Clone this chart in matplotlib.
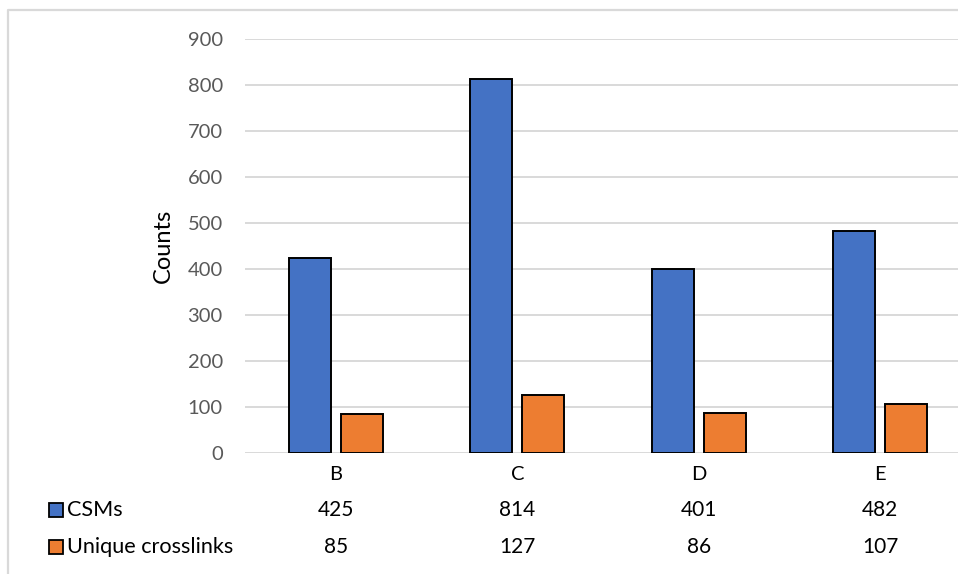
import matplotlib
matplotlib.use("Agg")
import matplotlib.pyplot as plt
from matplotlib.lines import Line2D
from matplotlib.transforms import blended_transform_factory
import numpy as np

categories = ["B", "C", "D", "E"]
series_names = ["CSMs", "Unique crosslinks"]
csms = [425, 814, 401, 482]
unique_crosslinks = [85, 127, 86, 107]
yticks = [0, 100, 200, 300, 400, 500, 600, 700, 800, 900]

blue = "#4472C4"
orange = "#ED7D31"
grid_col = "#D9D9D9"
tick_col = "#595959"

plt.rcParams["font.family"] = ["Lato", "DejaVu Sans"]

W, H = 958, 574
ax_l, ax_r, ax_b, ax_t = 245, 971, 453, 39
fig = plt.figure(figsize=(W / 100, H / 100), dpi=100)
ax = fig.add_axes([ax_l / W, 1 - ax_b / H, (ax_r - ax_l) / W, (ax_b - ax_t) / H])

x = np.arange(len(categories))
bw = 0.231
off = 0.143
ax.bar(x - off, csms, bw, color=blue, edgecolor="black", linewidth=1.4, zorder=3)
ax.bar(x + off, unique_crosslinks, bw, color=orange, edgecolor="black", linewidth=1.4, zorder=3)

ax.set_xlim(-0.5, len(categories) - 0.5)
ax.set_ylim(0, 900)
ax.set_yticks(yticks)
ax.tick_params(axis="y", length=0, pad=16, labelsize=14.5, labelcolor=tick_col)
ax.set_xticks(x)
ax.set_xticklabels(categories)
ax.tick_params(axis="x", length=0, pad=9, labelsize=14.5, labelcolor="black")
ax.yaxis.grid(True, color=grid_col, linewidth=1.4, zorder=0)
ax.set_axisbelow(True)
for s in ax.spines.values():
    s.set_visible(False)
ax.set_ylabel("Counts", fontsize=17, color="black", va="center")
ax.yaxis.set_label_coords((163 - ax_l) / (ax_r - ax_l), (ax_b - 246) / (ax_b - ax_t))

# data table below the axis
tr = blended_transform_factory(ax.transData, fig.transFigure)
rows = [csms, unique_crosslinks]
colors = [blue, orange]
row_y = [1 - 509.5 / H, 1 - 547 / H]
for vals, yy, name, c in zip(rows, row_y, series_names, colors):
    for xi, v in zip(x, vals):
        fig.text(xi, yy, str(v), transform=tr, ha="center", va="center",
                 fontsize=15, color="black")
    fig.add_artist(Line2D([55.5 / W], [yy], marker="s", markersize=10.3,
                          markerfacecolor=c, markeredgecolor="black",
                          markeredgewidth=1.3, linestyle="none",
                          transform=fig.transFigure))
    fig.text(67 / W, yy, name, ha="left", va="center", fontsize=15.6, color="black")

# chart area border (top and left edges)
fig.add_artist(Line2D([8 / W, 8 / W, 1], [0, 1 - 10 / H, 1 - 10 / H],
                      color=grid_col, linewidth=1.6, transform=fig.transFigure))

fig.savefig("out.png", dpi=100)
